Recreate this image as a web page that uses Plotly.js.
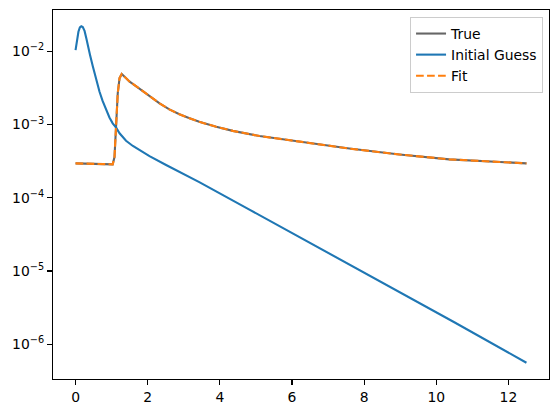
<!DOCTYPE html>
<html>
<head>
<meta charset="utf-8">
<script src="https://cdn.plot.ly/plotly-3.0.1.min.js"></script>
<style>html,body{margin:0;padding:0;background:#fff;}#chart{width:559px;height:413px;}</style>
</head>
<body>
<div id="chart"></div>
<script>
// Initial Guess
const guessX = [0, 0.04, 0.08, 0.12, 0.16, 0.2, 0.25, 0.3, 0.34, 0.4, 0.48, 0.56, 0.665, 0.75, 0.85, 0.94, 1.03, 1.13, 1.22, 1.4, 1.59, 1.8, 2.05, 2.51, 3.43, 4.82, 5.1, 6.2, 7.5, 8.7, 8.98, 10.5, 12.5];
const guessY = [1.04e-2, 1.45e-2, 1.85e-2, 2.12e-2, 2.2e-2, 2.15e-2, 1.9e-2, 1.5e-2, 1.2e-2, 9.0e-3, 6.2e-3, 4.3e-3, 2.8e-3, 2.1e-3, 1.58e-3, 1.25e-3, 1.04e-3, 9.0e-4, 7.6e-4, 6.0e-4, 5.1e-4, 4.4e-4, 3.7e-4, 2.8e-4, 1.64e-4, 6.9e-5, 5.8e-5, 2.92e-5, 1.3e-5, 6.1e-6, 5.1e-6, 2.0e-6, 5.6e-7];
// True and Fit
const trueX = [0, 0.5, 1.0, 1.03, 1.08, 1.13, 1.17, 1.22, 1.28, 1.36, 1.5, 1.77, 2.05, 2.33, 2.6, 2.88, 3.16, 3.43, 3.9, 4.36, 5.1, 6.2, 7.59, 8.98, 10.36, 12.5];
const trueY = [2.95e-4, 2.9e-4, 2.86e-4, 2.86e-4, 3.6e-4, 9.3e-4, 2.67e-3, 4.3e-3, 4.9e-3, 4.5e-3, 3.85e-3, 3.1e-3, 2.45e-3, 1.95e-3, 1.61e-3, 1.38e-3, 1.22e-3, 1.09e-3, 9.3e-4, 8.2e-4, 6.97e-4, 5.8e-4, 4.7e-4, 3.9e-4, 3.35e-4, 2.95e-4];
const fitX = [0, 0.5, 1.0, 1.03, 1.08, 1.13, 1.17, 1.22, 1.28, 1.36, 1.5, 1.77, 2.05, 2.33, 2.6, 2.88, 3.16, 3.43, 3.9, 4.36, 5.1, 6.2, 7.59, 8.98, 10.36, 12.5];
const fitY = [2.95e-4, 2.9e-4, 2.86e-4, 2.86e-4, 3.6e-4, 9.3e-4, 2.67e-3, 4.3e-3, 4.9e-3, 4.5e-3, 3.85e-3, 3.1e-3, 2.45e-3, 1.95e-3, 1.61e-3, 1.38e-3, 1.22e-3, 1.09e-3, 9.3e-4, 8.2e-4, 6.97e-4, 5.8e-4, 4.7e-4, 3.9e-4, 3.35e-4, 2.95e-4];
const seriesNames = ["True", "Initial Guess", "Fit"];
const xTicks = [0, 2, 4, 6, 8, 10, 12];
const yExponents = [-6, -5, -4, -3, -2];
const minorDigits = [2, 3, 4, 5, 6, 7, 8, 9];

const yTicks = yExponents.map(e => Math.pow(10, e));
const yTickText = yExponents.map(e => "10<sup>\u2212" + Math.abs(e) + "</sup>");
const minorTicks = [];
[-7].concat(yExponents).forEach(e => minorDigits.forEach(d => minorTicks.push(d * Math.pow(10, e))));

const font = {family: "DejaVu Sans", size: 13.9, color: "#000"};
const yRange = [-6.474, -1.436];
const traces = [
  {x: trueX, y: trueY, name: seriesNames[0], mode: "lines", line: {color: "rgba(0,0,0,0.6)", width: 2.1}},
  {x: guessX, y: guessY, name: seriesNames[1], mode: "lines", line: {color: "#1f77b4", width: 2.1}},
  {x: fitX, y: fitY, name: seriesNames[2], mode: "lines", line: {color: "#ff7f0e", width: 2.1, dash: "7.7px,3.3px"}}
];
const layout = {
  width: 559, height: 413,
  margin: {l: 53, r: 10, t: 10, b: 34, pad: 0},
  paper_bgcolor: "#fff", plot_bgcolor: "#fff",
  font: font,
  showlegend: true,
  legend: {x: 0.988, y: 0.981, xanchor: "right", yanchor: "top", bgcolor: "rgba(255,255,255,0.8)",
           bordercolor: "#cccccc", borderwidth: 1, font: font, tracegroupgap: 0},
  xaxis: {range: [-0.625, 13.125], tickvals: xTicks, ticktext: xTicks.map(String), ticks: "outside", ticklen: 5, tickwidth: 1.1,
          tickcolor: "#000", showline: true, linecolor: "#000", linewidth: 1.1, mirror: true, showgrid: false, zeroline: false,
          tickfont: font},
  yaxis: {type: "log", range: yRange, tickvals: yTicks, ticktext: yTickText, ticks: "outside", ticklen: 5, tickwidth: 1.1,
          tickcolor: "#000", showline: true, linecolor: "#000", linewidth: 1.1, mirror: true, showgrid: false, zeroline: false,
          tickfont: font},
  yaxis2: {type: "log", range: yRange, overlaying: "y", side: "left", tickvals: minorTicks, showticklabels: false,
           ticks: "outside", ticklen: 2.8, tickwidth: 0.8, tickcolor: "#000", showline: false, showgrid: false, zeroline: false,
           fixedrange: true}
};
Plotly.newPlot("chart", traces, layout, {displayModeBar: false, staticPlot: true});
</script>
</body>
</html>
